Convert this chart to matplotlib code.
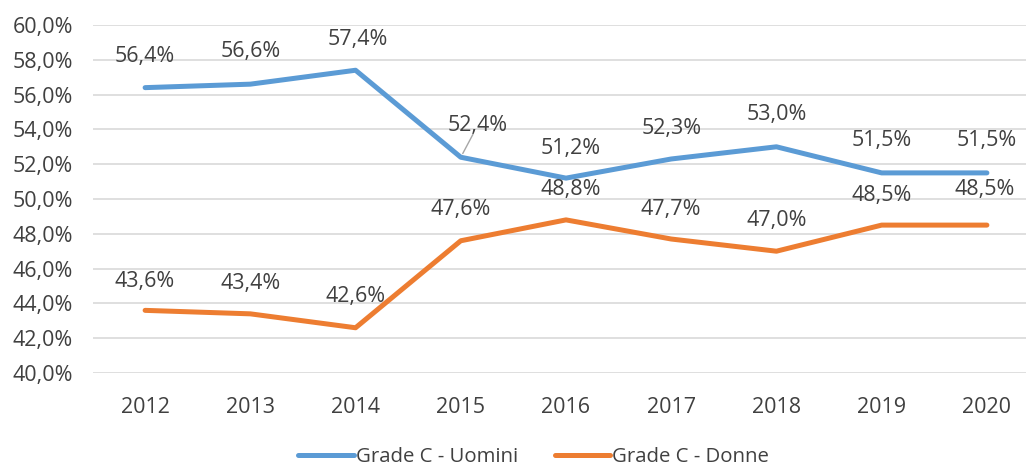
import matplotlib
matplotlib.use("Agg")
import matplotlib.pyplot as plt
from matplotlib.ticker import FuncFormatter

years = ["2012", "2013", "2014", "2015", "2016", "2017", "2018", "2019", "2020"]
uomini = [56.4, 56.6, 57.4, 52.4, 51.2, 52.3, 53.0, 51.5, 51.5]
donne = [43.6, 43.4, 42.6, 47.6, 48.8, 47.7, 47.0, 48.5, 48.5]

# label offsets in pixels (dx, dy) relative to the point
off_u = [(0, 31), (0, 33), (2, 31), (17, 32), (5, 30), (0, 30), (0, 32), (0, 32), (0, 32)]
off_d = [(0, 29), (0, 30), (0, 31), (0, 31), (5, 30), (0, 30), (0, 31), (0, 30), (-2, 36)]

plt.rcParams['font.family'] = ['Open Sans', 'DejaVu Sans']
txt_col = "#404040"
fs = 15.5

fig = plt.figure(figsize=(10.26, 4.66), dpi=100)
ax = fig.add_axes([92.5 / 1026, 1 - 373 / 466, 947 / 1026, 348 / 466])

x = range(len(years))
ax.plot(x, uomini, color="#5B9BD5", lw=3.6, solid_capstyle="round", label="Grade C - Uomini")
ax.plot(x, donne, color="#ED7D31", lw=3.6, solid_capstyle="round", label="Grade C - Donne")

def fmt(v):
    return f"{v:.1f}%".replace(".", ",")

for i, v in enumerate(uomini):
    dx, dy = off_u[i]
    if i == 3:
        # label moved aside, with a leader line
        ax.annotate(fmt(v), (i, v), xytext=(dx, dy), textcoords="offset pixels",
                    ha="center", va="center", fontsize=fs, color=txt_col,
                    arrowprops=dict(arrowstyle="-", color="#A6A6A6", lw=1,
                                    patchA=None, shrinkA=7.5, shrinkB=3))
    else:
        ax.annotate(fmt(v), (i, v), xytext=(dx, dy), textcoords="offset pixels",
                    ha="center", va="center", fontsize=fs, color=txt_col)
for i, v in enumerate(donne):
    dx, dy = off_d[i]
    ax.annotate(fmt(v), (i, v), xytext=(dx, dy), textcoords="offset pixels",
                ha="center", va="center", fontsize=fs, color=txt_col)

ax.set_xlim(-0.5, len(years) - 0.5)
ax.set_ylim(40, 60)
ax.set_yticks(range(40, 61, 2))
ax.yaxis.set_major_formatter(FuncFormatter(lambda v, p: fmt(v)))
ax.set_xticks(list(x))
ax.set_xticklabels(years)
ax.grid(axis="y", color="#D9D9D9", lw=1.2)
ax.set_axisbelow(True)
for s in ax.spines.values():
    s.set_visible(False)
ax.tick_params(axis="both", length=0, labelsize=fs, colors=txt_col)
ax.tick_params(axis="y", pad=14)
ax.tick_params(axis="x", pad=17)

fig.legend(loc="lower center", bbox_to_anchor=(0.52, -0.042), ncol=2, frameon=False,
           fontsize=14.7, handlelength=2.7, handletextpad=0.1, columnspacing=1.8,
           labelcolor=txt_col)

fig.savefig("out.png", dpi=100)
